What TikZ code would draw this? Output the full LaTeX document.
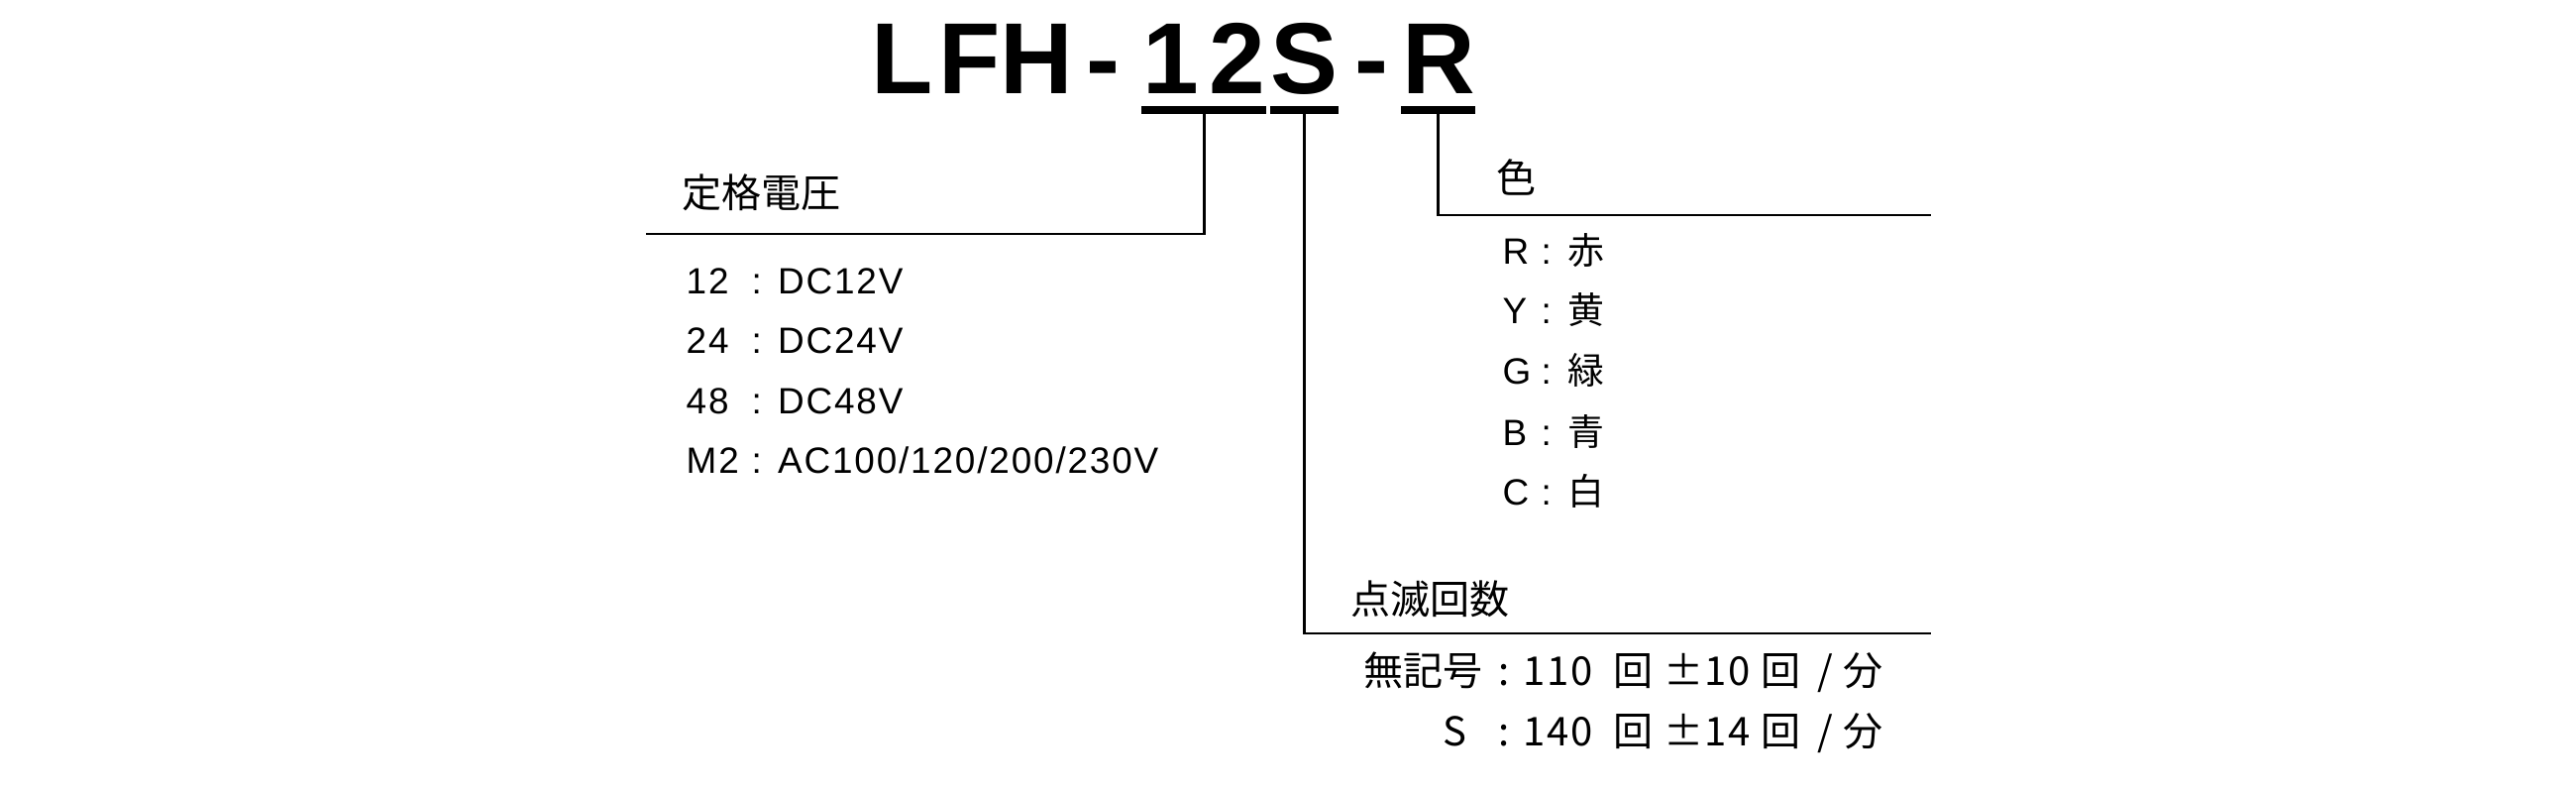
\documentclass[tikz,border=0pt]{standalone}
\usepackage{fontspec}
\setmainfont{Liberation Sans}
\newfontfamily\jp{Noto Sans CJK JP}

\begin{document}
\begin{tikzpicture}
	[every node/.style={inner sep=0pt,anchor=base west,font=\fontsize{10.5pt}{12pt}\selectfont\addfontfeature{LetterSpace=5}},
	head/.style={anchor=base,font=\fontsize{29pt}{32pt}\selectfont\bfseries},
	jptext/.style={font=\fontsize{11.4pt}{13pt}\selectfont\jp},
	rate/.style={font=\fontsize{11.4pt}{13pt}\selectfont\jp\addfontfeature{LetterSpace=4}},
	bar/.style={line width=2.4pt},
	wire/.style={line width=0.8pt}]
	\useasboundingbox (0,0) rectangle (26,-8);
	% model code, one node per character
	\foreach \c [count=\i] in {L,F,H,-,1,2,S,-,R}
		\node[head] (t\i) at ({9.11+(\i-1)*0.676},-0.95) {\c};
	\draw[bar] ([yshift=-0.16cm]t5.base west) -- ([yshift=-0.16cm]t6.base east) coordinate[midway] (u12);
	\draw[bar] ([yshift=-0.16cm]t7.base west) -- ([yshift=-0.16cm]t7.base east) coordinate[midway] (us);
	\draw[bar] ([yshift=-0.16cm]t9.base west) -- ([yshift=-0.16cm]t9.base east) coordinate[midway] (ur);
	% line ends
	\coordinate (volt end) at (6.52,-2.36);
	\coordinate (color end) at (19.49,-2.17);
	\coordinate (blink end) at (19.49,-6.39);
	\draw[wire] (u12) |- (volt end);
	\draw[wire] (us) |- (blink end);
	\draw[wire] (ur) |- (color end);
	% rated voltage
	\node[jptext] (volt) at (6.88,-2.10) {定格電圧};
	\node (v1) at (6.92,-2.97) {12};
	\node (v1v) at (7.58,-2.97) {: DC12V};
	\node (v2) at (6.92,-3.57) {24};
	\node (v2v) at (7.58,-3.57) {: DC24V};
	\node (v3) at (6.92,-4.18) {48};
	\node (v3v) at (7.58,-4.18) {: DC48V};
	\node (v4) at (6.92,-4.78) {M2};
	\node (v4v) at (7.58,-4.78) {: AC100/120/200/230V};
	% colour
	\node[jptext] (color) at (15.10,-1.95) {色};
	\node (c1) at (15.16,-2.67) {R};
	\node (c1v) at (15.55,-2.67) {: {\jp 赤}};
	\node (c2) at (15.16,-3.27) {Y};
	\node (c2v) at (15.55,-3.27) {: {\jp 黄}};
	\node (c3) at (15.16,-3.88) {G};
	\node (c3v) at (15.55,-3.88) {: {\jp 緑}};
	\node (c4) at (15.16,-4.50) {B};
	\node (c4v) at (15.55,-4.50) {: {\jp 青}};
	\node (c5) at (15.16,-5.10) {C};
	\node (c5v) at (15.55,-5.10) {: {\jp 白}};
	% flash rate
	\node[jptext] (blink) at (13.63,-6.20) {点滅回数};
	\node[jptext] (b1) at (13.76,-6.92) {無記号};
	\node[rate] (b1v) at (15.12,-6.92) {: 110\hspace{0.25em} 回 ±10 回\hspace{0.15em} / 分};
	\node[jptext] (b2) at (14.56,-7.52) {S};
	\node[rate] (b2v) at (15.12,-7.52) {: 140\hspace{0.25em} 回 ±14 回\hspace{0.15em} / 分};
\end{tikzpicture}
\end{document}
